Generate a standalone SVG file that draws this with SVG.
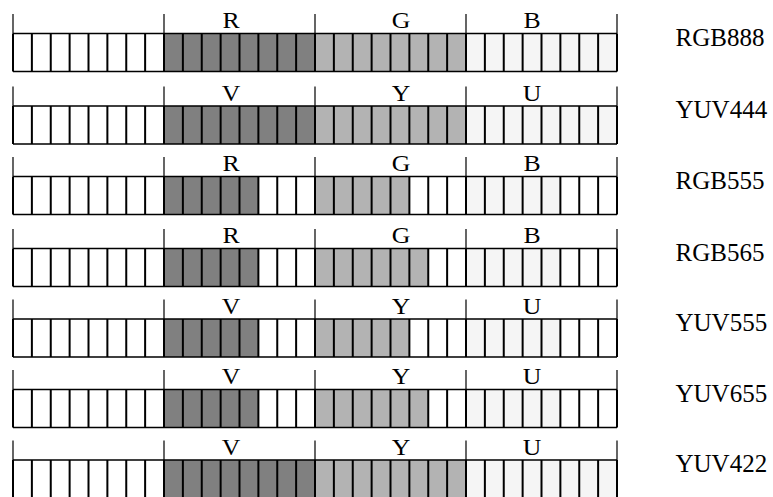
<svg xmlns="http://www.w3.org/2000/svg" xmlns:xlink="http://www.w3.org/1999/xlink" width="773" height="497" viewBox="0 0 773 497">
<style>
.d{fill:#808080}.l{fill:#b3b3b3}.v{fill:#f5f5f5}
.cell{stroke:#000;stroke-width:2;fill:none}
.hl{stroke:#000;stroke-width:1.6;fill:none}
.tk{stroke:#000;stroke-width:1.2}
.bl{font-family:"Liberation Serif",serif;font-size:23px;text-anchor:middle;fill:#000}
.fl{font-family:"Liberation Serif",serif;font-size:25px;fill:#000}
</style>
<defs>
<g id="grid">
<path class="tk" d="M13,-19.5V0M164,-19.5V0M315,-19.5V0M466,-19.5V0M617,-19.5V0"/>
<path class="hl" d="M13,0H617M13,38H617"/>
<path class="cell" d="M13,0v38M31.875,0v38M50.75,0v38M69.625,0v38M88.5,0v38M107.375,0v38M126.25,0v38M145.125,0v38M164,0v38M182.875,0v38M201.75,0v38M220.625,0v38M239.5,0v38M258.375,0v38M277.25,0v38M296.125,0v38M315,0v38M333.875,0v38M352.75,0v38M371.625,0v38M390.5,0v38M409.375,0v38M428.25,0v38M447.125,0v38M466,0v38M484.875,0v38M503.75,0v38M522.625,0v38M541.5,0v38M560.375,0v38M579.25,0v38M598.125,0v38M617,0v38"/>
</g>
</defs>
<g id="connectors"></g>
<g id="row-rgb888" transform="translate(0,33.5)">
<rect class="d" x="164" y="0" width="151" height="38"/><rect class="l" x="315" y="0" width="151" height="38"/><rect class="v" x="466" y="0" width="151" height="38"/>
<use xlink:href="#grid"/>
<text class="bl" transform="translate(231,-5.5) scale(1.12,1)">R</text>
<text class="bl" transform="translate(401,-5.5) scale(1.12,1)">G</text>
<text class="bl" transform="translate(532,-5.5) scale(1.12,1)">B</text>
<text class="fl" x="675.5" y="12">RGB888</text>
</g>
<g id="row-yuv444" transform="translate(0,106)">
<rect class="d" x="164" y="0" width="151" height="38"/><rect class="l" x="315" y="0" width="151" height="38"/><rect class="v" x="466" y="0" width="151" height="38"/>
<use xlink:href="#grid"/>
<text class="bl" transform="translate(231,-5.5) scale(1.12,1)">V</text>
<text class="bl" transform="translate(401,-5.5) scale(1.12,1)">Y</text>
<text class="bl" transform="translate(532,-5.5) scale(1.12,1)">U</text>
<text class="fl" x="675.5" y="12">YUV444</text>
</g>
<g id="row-rgb555" transform="translate(0,176.5)">
<rect class="d" x="164" y="0" width="94.375" height="38"/><rect class="l" x="315" y="0" width="94.375" height="38"/><rect class="v" x="466" y="0" width="94.375" height="38"/>
<use xlink:href="#grid"/>
<text class="bl" transform="translate(231,-5.5) scale(1.12,1)">R</text>
<text class="bl" transform="translate(401,-5.5) scale(1.12,1)">G</text>
<text class="bl" transform="translate(532,-5.5) scale(1.12,1)">B</text>
<text class="fl" x="675.5" y="12">RGB555</text>
</g>
<g id="row-rgb565" transform="translate(0,248.5)">
<rect class="d" x="164" y="0" width="94.375" height="38"/><rect class="l" x="315" y="0" width="113.25" height="38"/><rect class="v" x="466" y="0" width="94.375" height="38"/>
<use xlink:href="#grid"/>
<text class="bl" transform="translate(231,-5.5) scale(1.12,1)">R</text>
<text class="bl" transform="translate(401,-5.5) scale(1.12,1)">G</text>
<text class="bl" transform="translate(532,-5.5) scale(1.12,1)">B</text>
<text class="fl" x="675.5" y="12">RGB565</text>
</g>
<g id="row-yuv555" transform="translate(0,319)">
<rect class="d" x="164" y="0" width="94.375" height="38"/><rect class="l" x="315" y="0" width="94.375" height="38"/><rect class="v" x="466" y="0" width="94.375" height="38"/>
<use xlink:href="#grid"/>
<text class="bl" transform="translate(231,-5.5) scale(1.12,1)">V</text>
<text class="bl" transform="translate(401,-5.5) scale(1.12,1)">Y</text>
<text class="bl" transform="translate(532,-5.5) scale(1.12,1)">U</text>
<text class="fl" x="675.5" y="12">YUV555</text>
</g>
<g id="row-yuv655" transform="translate(0,389.5)">
<rect class="d" x="164" y="0" width="94.375" height="38"/><rect class="l" x="315" y="0" width="113.25" height="38"/><rect class="v" x="466" y="0" width="94.375" height="38"/>
<use xlink:href="#grid"/>
<text class="bl" transform="translate(231,-5.5) scale(1.12,1)">V</text>
<text class="bl" transform="translate(401,-5.5) scale(1.12,1)">Y</text>
<text class="bl" transform="translate(532,-5.5) scale(1.12,1)">U</text>
<text class="fl" x="675.5" y="12">YUV655</text>
</g>
<g id="row-yuv422" transform="translate(0,460)">
<rect class="d" x="164" y="0" width="151" height="38"/><rect class="l" x="315" y="0" width="151" height="38"/><rect class="v" x="466" y="0" width="151" height="38"/>
<use xlink:href="#grid"/>
<text class="bl" transform="translate(231,-5.5) scale(1.12,1)">V</text>
<text class="bl" transform="translate(401,-5.5) scale(1.12,1)">Y</text>
<text class="bl" transform="translate(532,-5.5) scale(1.12,1)">U</text>
<text class="fl" x="675.5" y="12">YUV422</text>
</g>
</svg>
